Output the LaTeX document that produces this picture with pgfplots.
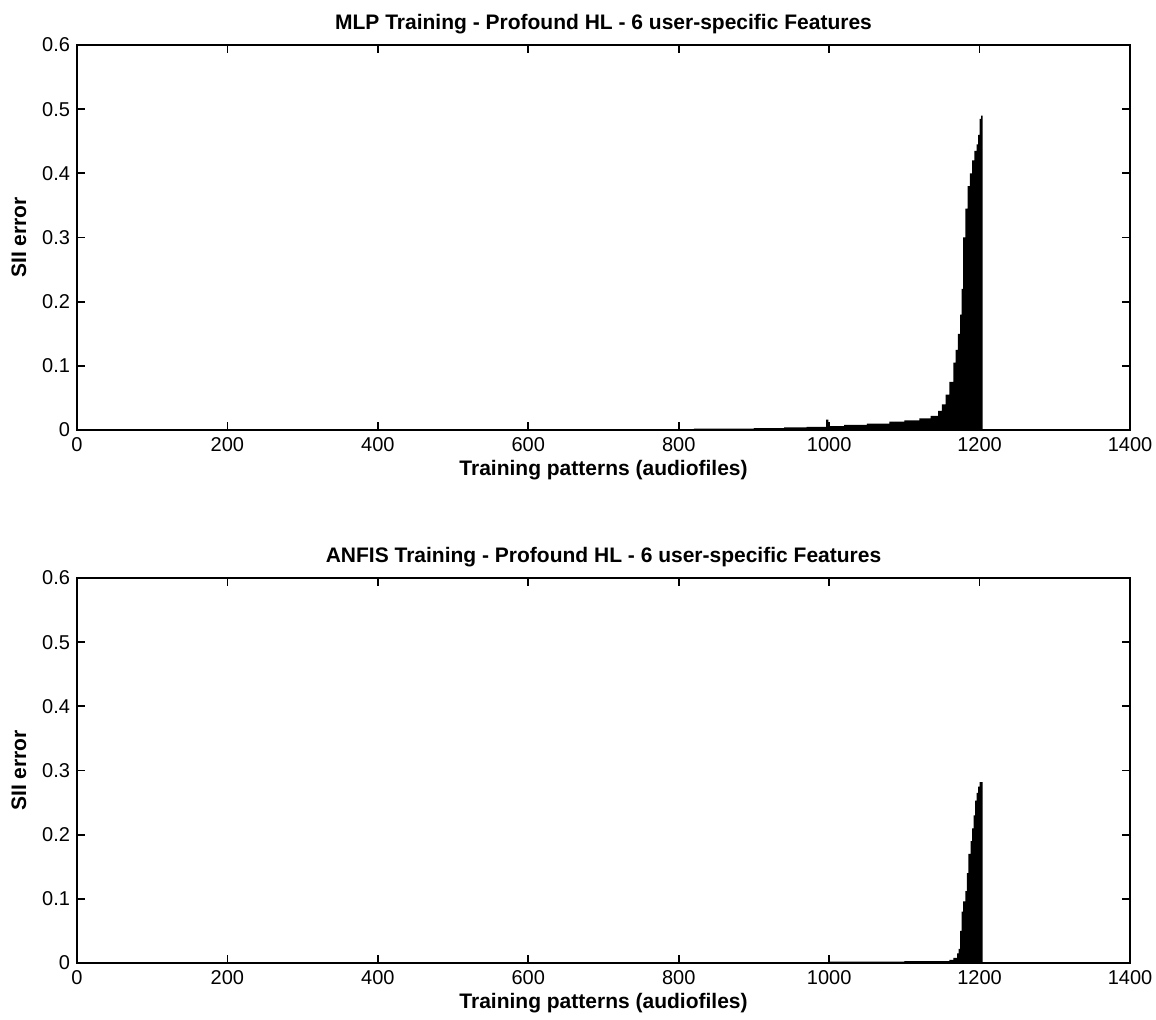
\documentclass[border=0pt]{standalone}
\usepackage{pgfplots}
\pgfplotsset{compat=1.18}
\usepackage{fontspec}
\setmainfont{Liberation Sans}
\pgfplotsset{
  mlp/.style={
    scale only axis, width=526.5pt, height=192.5pt,
    xmin=0, xmax=1400, ymin=0, ymax=0.6,
    xtick={0,200,...,1400}, ytick={0,0.1,...,0.6},
    tick align=inside, major tick length=4pt,
    axis line style={line width=0.9pt}, every tick/.style={line width=0.9pt, black},
    tick label style={font=\fontsize{10}{12}\selectfont},
    /pgf/number format/assume math mode=true,
    /pgf/number format/set thousands separator={},
    yticklabel style={/pgf/number format/fixed,/pgf/number format/precision=1},
    xlabel={\textbf{Training patterns (audiofiles)}},
    ylabel={\textbf{SII error}},
    label style={font=\fontsize{10.5}{12}\selectfont},
    title style={font=\bfseries\fontsize{10.5}{12}\selectfont, yshift=-4pt},
    xlabel style={yshift=2.5pt},
    ylabel style={yshift=1pt},
    scaled y ticks=false,
  }
}
\begin{document}
\begin{tikzpicture}
\path[use as bounding box] (-38.5pt,-28pt) rectangle (539.5pt,481.5pt);
\begin{axis}[mlp, at={(0,266.5pt)}, title={MLP Training - Profound HL - 6 user-specific Features}]
\addplot[fill=black, draw=none, const plot] coordinates {
(820,0.002)(860,0.002)(900,0.003)(940,0.004)(970,0.005)(995,0.005)(996,0.016)(999,0.006)
(1020,0.008)(1050,0.010)(1080,0.013)(1100,0.015)(1120,0.018)(1135,0.022)(1145,0.030)
(1150,0.040)(1155,0.055)(1160,0.075)(1165,0.105)(1168,0.125)(1171,0.150)(1174,0.180)
(1176,0.220)(1178,0.300)(1181,0.345)(1184,0.380)(1187,0.400)(1190,0.420)(1193,0.435)
(1196,0.445)(1198,0.460)(1200,0.485)(1202,0.490)(1204,0.490)} \closedcycle;
\end{axis}
\begin{axis}[mlp, at={(0,0)}, title={ANFIS Training - Profound HL - 6 user-specific Features}]
\addplot[fill=black, draw=none, const plot] coordinates {
(1000,0.002)(1050,0.002)(1100,0.003)(1140,0.003)(1160,0.005)(1165,0.008)(1170,0.015)
(1172,0.022)(1174,0.050)(1176,0.080)(1178,0.096)(1181,0.112)(1183,0.140)(1185,0.170)
(1188,0.190)(1190,0.210)(1192,0.230)(1194,0.253)(1196,0.265)(1198,0.275)(1200,0.282)
(1204,0.282)} \closedcycle;
\end{axis}
\end{tikzpicture}
\end{document}
